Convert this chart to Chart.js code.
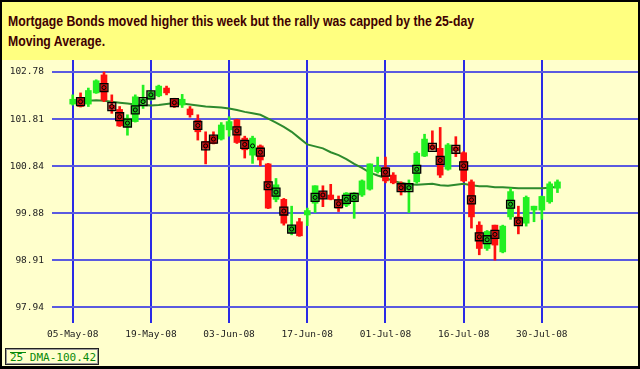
<!DOCTYPE html>
<html><head><meta charset="utf-8">
<script src="https://cdn.jsdelivr.net/npm/chart.js@4/dist/chart.umd.min.js"></script>
<style>
html,body{margin:0;padding:0;}
body{width:640px;height:369px;background:#000;position:relative;overflow:hidden;}
#title{position:absolute;left:2px;top:2px;width:636px;height:58px;background:#FFFF80;overflow:hidden;}
#tt{position:absolute;left:6px;top:9px;white-space:nowrap;font:bold 15px "Liberation Sans Narrow","Liberation Sans",Arial,sans-serif;line-height:19.5px;color:#400000;transform-origin:0 0;}
#wrap{position:absolute;left:2px;top:60px;width:636px;height:306px;background:#FFFFCC;}
#legend{position:absolute;left:5px;top:348px;width:92px;height:15px;border:1px solid #222;box-shadow:inset 0 0 0 1px #999;background:#FFFFCC;
 font:11px "DejaVu Sans Mono",monospace;color:#0a8a0a;line-height:15px;}
#legend span{position:absolute;left:4px;top:1px;}
#legend i{position:absolute;left:4px;top:3px;width:16px;height:1px;background:#0a8a0a;}
</style></head>
<body>
<div id="title"><div id="tt"><span id="l1">Mortgage Bonds moved higher this week but the rally was capped by the 25-day</span><br><span>Moving Average.</span></div></div>
<div id="wrap"><canvas id="c" width="636" height="306"></canvas></div>
<div id="legend"><i></i><span>25 DMA-100.42</span></div>
<script>
const dates = ["05-May-08","06-May-08","07-May-08","08-May-08","09-May-08","12-May-08","13-May-08","14-May-08","15-May-08","16-May-08",
"19-May-08","20-May-08","21-May-08","22-May-08","23-May-08","27-May-08","28-May-08","29-May-08","30-May-08","02-Jun-08",
"03-Jun-08","04-Jun-08","05-Jun-08","06-Jun-08","09-Jun-08","10-Jun-08","11-Jun-08","12-Jun-08","13-Jun-08","16-Jun-08",
"17-Jun-08","18-Jun-08","19-Jun-08","20-Jun-08","23-Jun-08","24-Jun-08","25-Jun-08","26-Jun-08","27-Jun-08","30-Jun-08",
"01-Jul-08","02-Jul-08","03-Jul-08","07-Jul-08","08-Jul-08","09-Jul-08","10-Jul-08","11-Jul-08","14-Jul-08","15-Jul-08",
"16-Jul-08","17-Jul-08","18-Jul-08","21-Jul-08","22-Jul-08","23-Jul-08","24-Jul-08","25-Jul-08","28-Jul-08","29-Jul-08",
"30-Jul-08","31-Jul-08","01-Aug-08"];
const open  = [102.12,102.25,102.12,102.35,102.72,102.10,102.01,101.66,101.76,102.14,
102.22,102.29,102.45,102.22,102.10,102.02,101.79,101.35,101.46,101.40,
101.59,101.80,101.42,101.07,101.26,100.89,100.16,100.16,99.49,99.70,
99.84,100.08,100.31,100.25,100.15,100.04,100.11,100.25,100.37,100.73,
100.82,100.66,100.49,100.35,100.52,101.05,101.28,101.21,100.78,101.24,
101.12,100.52,99.63,99.15,99.63,99.08,99.80,99.80,99.67,99.94,
99.94,100.11,100.39];
const high  = [102.31,102.35,102.45,102.62,102.78,102.31,102.07,101.90,102.31,102.51,
102.40,102.51,102.49,102.24,102.32,102.07,101.90,101.55,101.55,101.74,
101.86,101.81,101.46,101.46,101.28,100.90,100.59,100.18,100.02,99.77,
99.98,100.44,100.44,100.47,100.23,100.30,100.30,100.56,100.89,101.03,
101.03,100.71,100.52,100.56,101.14,101.50,101.57,101.64,101.31,101.45,
101.14,100.56,99.70,99.52,99.63,99.63,100.39,100.02,100.23,100.02,
100.23,100.52,100.56];
const low   = [102.10,102.06,102.07,102.34,102.17,101.93,101.66,101.48,101.75,102.03,
102.20,102.27,102.31,102.05,102.05,101.85,101.38,100.89,101.30,101.38,
101.46,101.31,101.01,100.90,100.85,99.97,100.11,99.63,99.43,99.40,
99.62,99.89,100.01,100.15,99.91,100.01,99.77,100.22,100.35,100.70,
100.50,100.48,100.25,99.89,100.49,101.04,101.18,100.61,100.76,101.04,
100.52,99.57,99.02,99.11,98.91,99.06,99.75,99.45,99.61,99.70,
99.75,100.08,100.30];
const close = [102.22,102.07,102.40,102.60,102.20,102.02,101.67,101.83,102.27,102.22,
102.37,102.49,102.35,102.07,102.22,101.90,101.55,101.21,101.31,101.69,
101.76,101.33,101.18,101.42,100.97,99.98,100.46,99.67,99.61,99.41,
99.93,100.44,100.18,100.16,99.98,100.29,100.29,100.54,100.89,100.83,
100.54,100.50,100.34,100.46,101.11,101.40,101.19,100.66,101.28,101.16,
100.54,99.80,99.15,99.50,99.22,99.61,100.32,99.63,100.20,100.02,
100.22,100.48,100.52];
const dma25 = [102.17,102.18,102.19,102.20,102.19,102.17,102.15,102.13,102.11,102.10,
102.09,102.10,102.12,102.14,102.13,102.11,102.09,102.07,102.06,102.05,
102.03,102.00,101.96,101.93,101.90,101.82,101.74,101.65,101.55,101.42,
101.29,101.25,101.21,101.13,101.07,100.99,100.89,100.81,100.71,100.65,
100.60,100.54,100.50,100.47,100.46,100.47,100.48,100.45,100.44,100.46,
100.48,100.45,100.43,100.43,100.41,100.41,100.40,100.39,100.39,100.39,
100.39,100.40,100.42];
// pattern markers (null = none)
const marker = [null,102.17,null,null,102.46,102.07,101.86,101.73,102.00,102.17,
102.31,null,null,102.15,null,null,101.68,101.26,101.40,null,
null,101.57,101.29,101.26,101.13,100.44,100.31,99.92,99.55,null,
null,100.20,100.25,null,100.07,100.16,100.20,null,null,null,
100.72,null,100.40,100.40,100.78,null,101.23,100.96,null,101.19,
100.85,100.15,99.39,99.33,99.44,null,100.06,99.70,null,null,
null,null,null];
const circleOnly = [23];
const xTickIdx = [0,10,20,30,40,50,60];
const yTicks = [97.94,98.908,99.876,100.844,101.812,102.78];

// fit title line 1 to the reference width
(function(){
  const w = document.getElementById('l1').getBoundingClientRect().width;
  document.getElementById('tt').style.transform = 'scaleX(' + (466 / w) + ')';
})();

const UP='#22f022', DOWN='#ff1010';
const idx = dates.map((d,i)=>i);
const col = idx.map(i=> close[i]>=open[i]?UP:DOWN);
const boxPts = idx.filter(i=>marker[i]!==null && !circleOnly.includes(i)).map(i=>({x:i,y:marker[i]}));
const circPts = idx.filter(i=>marker[i]!==null).map(i=>({x:i,y:marker[i]}));
const tickFont = {family:'"DejaVu Sans Mono", monospace', size:9.5};
const noPad = s=>{s.paddingTop=0;s.paddingBottom=0;s.paddingLeft=0;s.paddingRight=0;};

new Chart(document.getElementById('c'), {
  type:'bar',
  data:{datasets:[
    {type:'line', data: idx.map(i=>({x:i,y:dma25[i]})), borderColor:'#2d8a2d', borderWidth:2, pointRadius:0, tension:0, order:5},
    {type:'bar', data: idx.map(i=>({x:i,y:[low[i],high[i]]})), backgroundColor:col, barThickness:2, grouped:false, order:4},
    {type:'bar', data: idx.map(i=>({x:i,y:[open[i],close[i]]})), backgroundColor:col, barThickness:6, grouped:false, order:3},
    {type:'line', showLine:false, data: boxPts, pointStyle:'rect', pointRadius:5.6, pointBackgroundColor:'rgba(0,0,0,0.22)', pointBorderColor:'#000', pointBorderWidth:1.3, order:2},
    {type:'line', showLine:false, data: circPts, pointStyle:'circle', pointRadius:2, pointBackgroundColor:'rgba(0,0,0,0)', pointBorderColor:'#000', pointBorderWidth:1, order:1}
  ]},
  options:{
    responsive:false, animation:false, devicePixelRatio:1,
    layout:{padding:0, autoPadding:false},
    plugins:{legend:{display:false}, tooltip:{enabled:false}},
    scales:{
      x:{type:'linear', min:-2.65, max:72.3, offset:false,
        afterBuildTicks:s=>{s.ticks = xTickIdx.map(v=>({value:v}));},
        afterFit:s=>{s.height=43; noPad(s);},
        grid:{color:'#2a2ae6', lineWidth:2, drawTicks:false, offset:false},
        border:{display:false},
        ticks:{font:tickFont, color:'#222', padding:6, maxRotation:0, autoSkip:false, callback:v=>dates[v]}
      },
      y:{type:'linear', min:97.617, max:103.027,
        afterBuildTicks:s=>{s.ticks = yTicks.map(v=>({value:v}));},
        afterFit:s=>{s.width=50; noPad(s);},
        grid:{color:'#5a5ae0', lineWidth:2, drawTicks:false},
        border:{display:false},
        ticks:{font:tickFont, color:'#222', padding:8, callback:v=>v.toFixed(2)}
      }
    }
  }
});
</script>
</body></html>
